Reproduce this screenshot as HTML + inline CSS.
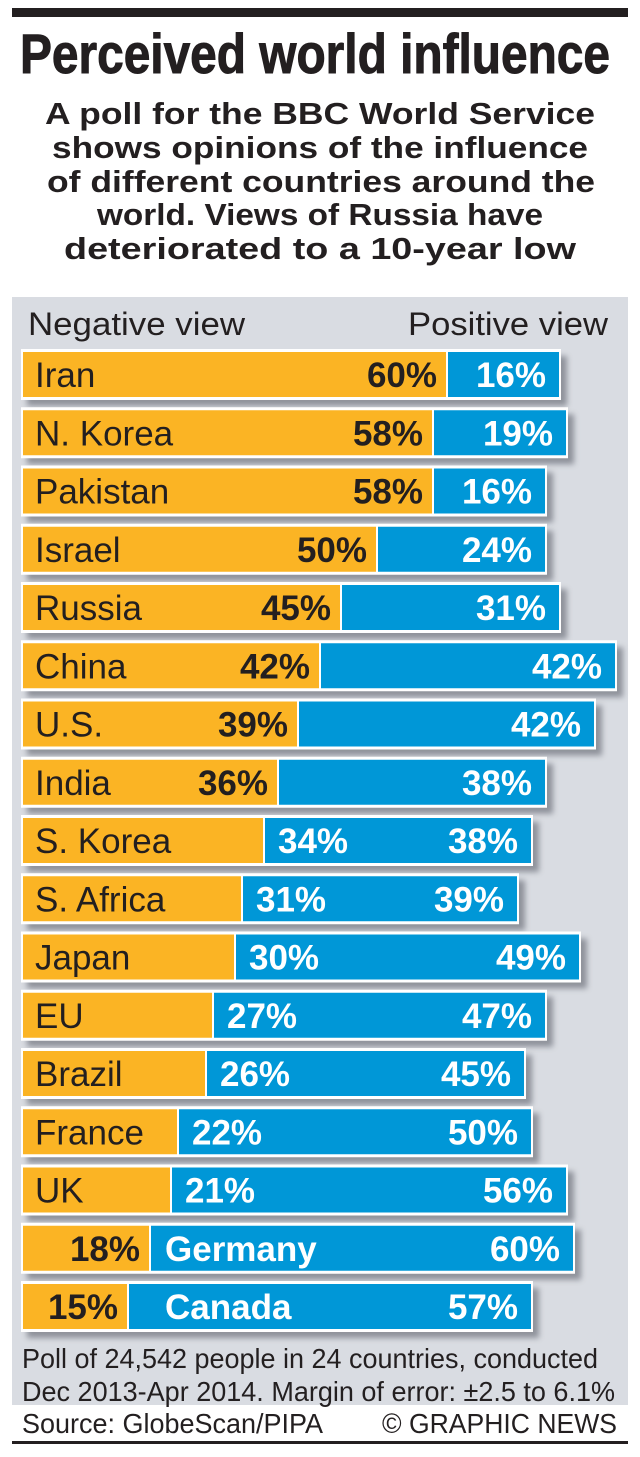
<!DOCTYPE html>
<html><head><meta charset="utf-8"><style>
html,body{margin:0;padding:0;background:#fff;}
svg{display:block;}
text{font-family:"Liberation Sans",Arial,sans-serif;}
</style></head><body>
<svg width="640" height="1457" viewBox="0 0 640 1457" xmlns="http://www.w3.org/2000/svg">
<defs>
<filter id="sh" x="-10%" y="-50%" width="130%" height="200%"><feGaussianBlur stdDeviation="3"/></filter>
</defs>
<rect x="12" y="8" width="616" height="9" fill="#231f20"/>
<text x="20" y="73" font-size="56" font-weight="bold" fill="#231f20" textLength="590" lengthAdjust="spacingAndGlyphs" stroke="#231f20" stroke-width="1">Perceived world influence</text>
<g font-size="31" font-weight="bold" fill="#231f20">
<text x="45" y="124" textLength="550" lengthAdjust="spacingAndGlyphs">A poll for the BBC World Service</text>
<text x="52" y="158" textLength="536" lengthAdjust="spacingAndGlyphs">shows opinions of the influence</text>
<text x="47" y="192" textLength="548" lengthAdjust="spacingAndGlyphs">of different countries around the</text>
<text x="97" y="225" textLength="446" lengthAdjust="spacingAndGlyphs">world. Views of Russia have</text>
<text x="64" y="259" textLength="512" lengthAdjust="spacingAndGlyphs">deteriorated to a 10-year low</text>
</g>
<rect x="12" y="297" width="616" height="1108" fill="#d9dce2"/>
<text x="28" y="335" font-size="32" fill="#231f20" textLength="217" lengthAdjust="spacingAndGlyphs">Negative view</text>
<text x="408" y="335" font-size="32" fill="#231f20" textLength="200" lengthAdjust="spacingAndGlyphs">Positive view</text>
<g id="bars"></g>
<text x="22" y="1368" font-size="28" fill="#231f20" textLength="576" lengthAdjust="spacingAndGlyphs">Poll of 24,542 people in 24 countries, conducted</text>
<text x="22" y="1401" font-size="28" fill="#231f20" textLength="593" lengthAdjust="spacingAndGlyphs">Dec 2013-Apr 2014. Margin of error: ±2.5 to 6.1%</text>
<text x="22" y="1433" font-size="28" fill="#231f20" textLength="301" lengthAdjust="spacingAndGlyphs">Source: GlobeScan/PIPA</text>
<text x="382" y="1433" font-size="28" fill="#231f20" textLength="235" lengthAdjust="spacingAndGlyphs">© GRAPHIC NEWS</text>
<rect x="12" y="1441" width="616" height="3" fill="#231f20"/>
</svg>
<script>
var d=[["Iran",60,16,447,561,0],["N. Korea",58,19,433,568,0],["Pakistan",58,16,433,547,0],["Israel",50,24,377,547,0],["Russia",45,31,341,561,0],["China",42,42,320,617,0],["U.S.",39,42,298,596,0],["India",36,38,278,547,0],["S. Korea",34,38,264,533,1],["S. Africa",31,39,242,519,1],["Japan",30,49,235,581,1],["EU",27,47,213,547,1],["Brazil",26,45,206,526,1],["France",22,50,178,533,1],["UK",21,56,171,568,1],["Germany",18,60,150,575,2],["Canada",15,57,128,533,2]];
var s="";
d.forEach(function(r,i){
var t=349+58.25*i, n=r[0],sp=r[3],re=r[4],m=r[5],b=t+38;
s+='<rect x="27" y="'+(t+7)+'" width="'+(re-21)+'" height="50" fill="#7d8089" opacity="0.8" filter="url(#sh)"/>';
s+='<rect x="21" y="'+t+'" width="'+(re-21)+'" height="51" fill="#fff"/>';
s+='<rect x="23" y="'+(t+3)+'" width="'+(sp-24)+'" height="45" fill="#fbb424"/>';
s+='<rect x="'+(sp+1)+'" y="'+(t+3)+'" width="'+(re-sp-3)+'" height="45" fill="#0097d7"/>';
if(m<2){s+='<text x="35" y="'+b+'" font-size="35" fill="#231f20">'+n+'</text>';}
else{s+='<text x="165" y="'+b+'" font-size="35" font-weight="bold" fill="#fff">'+n+'</text>';}
if(m==1){s+='<text x="'+(sp+14)+'" y="'+b+'" font-size="35" font-weight="bold" fill="#fff">'+r[1]+'%</text>';}
else{s+='<text x="'+(sp-10)+'" y="'+b+'" font-size="35" font-weight="bold" fill="#231f20" text-anchor="end">'+r[1]+'%</text>';}
s+='<text x="'+(re-15)+'" y="'+b+'" font-size="35" font-weight="bold" fill="#fff" text-anchor="end">'+r[2]+'%</text>';
});
document.getElementById("bars").innerHTML=s;
</script>
</body></html>
